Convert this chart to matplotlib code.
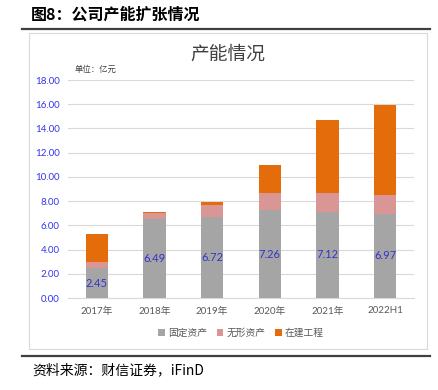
import matplotlib
matplotlib.use("Agg")
import matplotlib.pyplot as plt
import numpy as np
from matplotlib.patches import Rectangle
from matplotlib.lines import Line2D

plt.rcParams['font.family'] = ['Lato', 'Noto Sans CJK SC', 'DejaVu Sans']

years = ['2017年', '2018年', '2019年', '2020年', '2021年', '2022H1']
fixed = [2.45, 6.49, 6.72, 7.26, 7.12, 6.97]
intangible = [0.52, 0.55, 0.96, 1.42, 1.53, 1.52]
construction = [2.29, 0.10, 0.22, 2.29, 6.06, 7.46]
series_names = ['固定资产', '无形资产', '在建工程']
colors = ['#A5A5A5', '#DA9694', '#E46C0A']

fig = plt.figure(figsize=(4.38, 3.9), dpi=100)
W, H = 438, 390

# outer title and rules
fig.text(31 / W, 1 - 15 / H, '图8：公司产能扩张情况', fontsize=11.5, fontweight='bold',
         family=['Noto Sans CJK SC'], va='center', ha='left')
fig.add_artist(Line2D([22 / W, 430 / W], [1 - 29 / H, 1 - 29 / H], color='#404040', lw=1.6))
fig.add_artist(Line2D([22 / W, 430 / W], [1 - 356 / H, 1 - 356 / H], color='#404040', lw=1.6))
fig.add_artist(Rectangle((29 / W, 1 - 349 / H), 398 / W, 316 / H, fill=False,
                         edgecolor='#D9D9D9', lw=0.8))
fig.text(32 / W, 1 - 370 / H, '资料来源：财信证券，iFinD', fontsize=10, style='italic',
         family=['Noto Sans CJK SC'], va='center', ha='left')

ax = fig.add_axes([68 / W, 1 - 298 / H, 346 / W, 218 / H])
x = np.arange(len(years))
bw = 0.39
fixed_a = np.array(fixed)
intan_a = np.array(intangible)
cons_a = np.array(construction)
ax.bar(x, fixed_a, bw, color=colors[0], label=series_names[0], zorder=3)
ax.bar(x, intan_a, bw, bottom=fixed_a, color=colors[1], label=series_names[1], zorder=3)
ax.bar(x, cons_a, bw, bottom=fixed_a + intan_a, color=colors[2], label=series_names[2], zorder=3)

for xi, v in zip(x, fixed):
    ax.text(xi, v / 2, f'{v:.2f}', ha='center', va='center', color='#3333CC', fontsize=8, zorder=4)

ax.set_xlim(-0.5, len(years) - 0.5)
ax.set_ylim(0, 18)
ax.set_yticks(np.arange(0, 19, 2))
ax.set_yticklabels([f'{v:.2f}' for v in np.arange(0, 19, 2)], color='#3333EE', fontsize=7)
ax.set_xticks(x)
ax.set_xticklabels(years, color='#595959', fontsize=7)
ax.tick_params(length=0, pad=6)
ax.yaxis.grid(True, color='#D9D9D9', lw=0.8, zorder=0)
for s in ['top', 'right', 'left']:
    ax.spines[s].set_visible(False)
ax.spines['bottom'].set_color('#D9D9D9')

ax.text(0.02, 1.05, '单位：亿元', transform=ax.transAxes, fontsize=6, color='#404040', va='center')
fig.text(228 / W, 1 - 54 / H, '产能情况', fontsize=13.5, color='#404040', ha='center', va='center')

ax.legend(loc='center', bbox_to_anchor=(0.5, -0.16), ncol=3, frameon=False, fontsize=7,
          handlelength=0.7, handleheight=0.7, handletextpad=0.3, columnspacing=1.0,
          labelcolor='#595959')

fig.savefig('out.png', dpi=100)
